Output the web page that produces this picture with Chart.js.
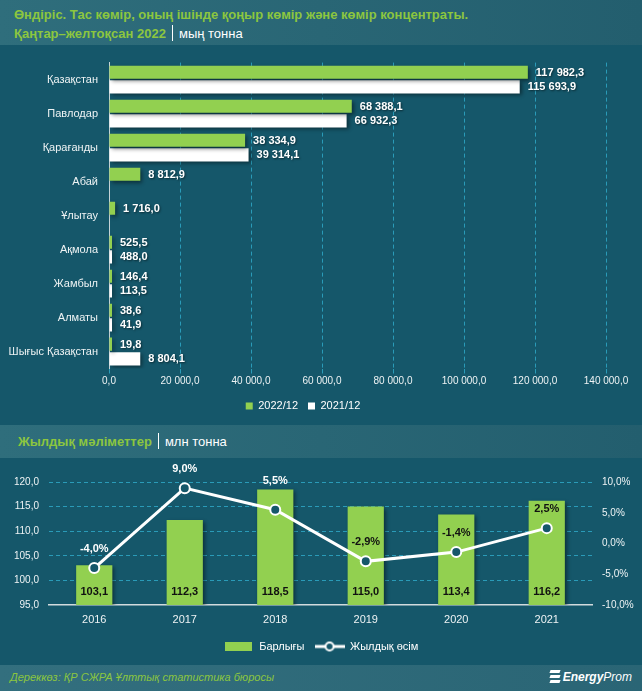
<!DOCTYPE html>
<html><head><meta charset="utf-8">
<script src="https://cdn.jsdelivr.net/npm/chart.js@4.4.0/dist/chart.umd.min.js"></script>
<style>
body{margin:0;width:642px;height:691px;background:#15576a;position:relative;overflow:hidden;font-family:"Liberation Sans",Arial,sans-serif;}
.band{position:absolute;left:0;width:642px;background:linear-gradient(to right,#2f6e7c,#235e6e);}
#h1{top:0;height:45px;}
#h2{top:425px;height:33px;}
#ft{top:665px;height:26px;background:linear-gradient(to right,#336f7e,#2a6575);}
.t{position:absolute;white-space:nowrap;font-size:13px;line-height:18px;}
.g{color:#8cc63f;font-weight:bold;}
.w{color:#fff;}
.sep{display:inline-block;width:1px;height:16px;background:#fff;vertical-align:-3px;margin:0 6px 0 6px;}
#c1w{position:absolute;left:0;top:45px;width:642px;height:380px;}
#c2w{position:absolute;left:0;top:458px;width:642px;height:207px;}
#src{position:absolute;left:10px;top:671px;font-size:11px;font-style:italic;color:#8cc63f;white-space:nowrap;}
#logo{position:absolute;right:10px;top:670px;color:#fff;font-size:12px;font-style:italic;white-space:nowrap;}
#logo .ic{display:inline-block;width:10px;height:13px;vertical-align:-2px;margin-right:3px;position:relative;}
#logo .ic i{position:absolute;left:0;width:10px;height:3px;background:#fff;transform:skewX(-20deg);}
</style></head>
<body>
<div class="band" id="h1"></div>
<div class="t g" style="left:14px;top:6px;">Өндіріс. Тас көмір, оның ішінде қоңыр көмір және көмір концентраты.</div>
<div class="t" style="left:14px;top:25px;"><span class="g">Қаңтар–желтоқсан 2022</span><span class="sep"></span><span class="w">мың тонна</span></div>
<div id="c1w"><canvas id="c1" width="642" height="380"></canvas></div>
<div class="band" id="h2"></div>
<div class="t" style="left:18px;top:433px;"><span class="g">Жылдық мәліметтер</span><span class="sep"></span><span class="w">млн тонна</span></div>
<div id="c2w"><canvas id="c2" width="642" height="207"></canvas></div>
<div class="band" id="ft"></div>
<div id="src">Дереккөз: ҚР СЖРА Ұлттық статистика бюросы</div>
<div id="logo"><span class="ic"><i style="top:0"></i><i style="top:5px"></i><i style="top:10px"></i></span><b>Energy</b>Prom</div>
<script>
const categories = ["Қазақстан","Павлодар","Қарағанды","Абай","Ұлытау","Ақмола","Жамбыл","Алматы","Шығыс Қазақстан"];
const values2022 = [117982.3, 68388.1, 38334.9, 8812.9, 1716.0, 525.5, 146.4, 38.6, 19.8];
const values2021 = [115693.9, 66932.3, 39314.1, null, null, 488.0, 113.5, 41.9, 8804.1];
const seriesNames1 = ["2022/12","2021/12"];
const years = ["2016","2017","2018","2019","2020","2021"];
const totals = [103.1, 112.3, 118.5, 115.0, 113.4, 116.2];
const growth = [-4.0, 9.0, 5.5, -2.9, -1.4, 2.5];
const seriesNames2 = ["Барлығы","Жылдық өсім"];

const GREEN = '#92d050', BG = '#15576a', GRID = '#2a9bb8', TXT = '#eef3f4';
const FONT = '"Liberation Sans",Arial,sans-serif';

function fmt(v, d){
  const s = Math.abs(v).toFixed(d).split('.');
  const i = s[0].replace(/\B(?=(\d{3})+(?!\d))/g,' ');
  return (v<0?'-':'') + i + (d ? ','+s[1] : '');
}

const shadowPlugin = {
  id:'shadow',
  beforeDatasetDraw(chart, args){
    if (args.meta.type !== 'bar') return;
    const c = chart.ctx; c.save();
    c.shadowColor='rgba(0,0,0,0.45)'; c.shadowBlur=4; c.shadowOffsetX=2; c.shadowOffsetY=2;
  },
  afterDatasetDraw(chart, args){ if (args.meta.type === 'bar') chart.ctx.restore(); }
};

const labels1 = {
  id:'labels1',
  afterDatasetsDraw(chart){
    const c = chart.ctx; c.save();
    c.font = 'bold 11px ' + FONT; c.fillStyle = '#fff'; c.textBaseline='middle'; c.textAlign='left';
    c.shadowColor='rgba(0,0,0,0.5)'; c.shadowBlur=2; c.shadowOffsetX=1; c.shadowOffsetY=1;
    chart.data.datasets.forEach((ds,i)=>{
      chart.getDatasetMeta(i).data.forEach((el,j)=>{
        const v = ds.data[j]; if (v==null) return;
        c.fillText(fmt(v,1), el.x + 8, el.y + 0.5);
      });
    });
    c.restore();
  }
};

new Chart(document.getElementById('c1'), {
  type:'bar',
  data:{ labels:categories, datasets:[
    {label:seriesNames1[0], data:values2022, backgroundColor:GREEN, categoryPercentage:0.86, barPercentage:0.9, minBarLength:3},
    {label:seriesNames1[1], data:values2021, backgroundColor:'#ffffff', categoryPercentage:0.86, barPercentage:0.9, minBarLength:3}
  ]},
  options:{
    indexAxis:'y', responsive:false, animation:false, devicePixelRatio:1,
    layout:{padding:{left:0, right:36, top:9.5, bottom:3.5}},
    plugins:{
      tooltip:{enabled:false},
      legend:{position:'bottom', labels:{color:'#fff', font:{family:FONT, size:11}, boxWidth:7, boxHeight:7, padding:10}}
    },
    scales:{
      x:{min:0, max:140000,
        ticks:{stepSize:20000, color:TXT, font:{family:FONT, size:10}, padding:2, callback:v=>fmt(v,1), maxRotation:0},
        grid:{color:ctx=>(ctx.tick && ctx.tick.value===0)?'rgba(0,0,0,0)':GRID, drawTicks:true, tickLength:5, tickColor:GRID},
        border:{display:false, dash:[4,3]},
        afterFit(s){ s.height = 22; }
      },
      y:{
        ticks:{color:TXT, font:{family:FONT, size:11}, padding:11},
        grid:{display:false, drawTicks:false},
        border:{display:true, color:'#c5d3d7', width:1},
        afterFit(s){ s.width = 109; }
      }
    }
  },
  plugins:[shadowPlugin, labels1]
});

function legendImg(kind){
  const cv = document.createElement('canvas');
  if (kind==='bar'){ cv.width=27; cv.height=9; const c=cv.getContext('2d'); c.fillStyle=GREEN; c.fillRect(0,0,27,9); }
  else { cv.width=30; cv.height=12; const c=cv.getContext('2d');
    c.strokeStyle='#fff'; c.lineWidth=3; c.beginPath(); c.moveTo(0,6); c.lineTo(30,6); c.stroke();
    c.beginPath(); c.arc(15,6,4,0,Math.PI*2); c.fillStyle=BG; c.fill(); c.lineWidth=2; c.stroke(); }
  return cv;
}

const labels2 = {
  id:'labels2',
  afterDatasetsDraw(chart){
    const c = chart.ctx; c.save();
    c.font = 'bold 11px ' + FONT; c.textAlign='center'; c.textBaseline='middle';
    const barMeta = chart.getDatasetMeta(0), lineMeta = chart.getDatasetMeta(1);
    barMeta.data.forEach((el,j)=>{
      c.fillStyle='#111'; c.fillText(fmt(totals[j],1), el.x, chart.chartArea.bottom - 13);
    });
    lineMeta.data.forEach((el,j)=>{
      let ly = el.y - 19;
      const barTop = barMeta.data[j].y;
      if (Math.abs(ly - barTop) < 6) ly = barTop - 8;
      c.fillStyle = ly > barTop ? '#111' : '#fff';
      c.fillText(fmt(growth[j],1)+'%', el.x, ly);
    });
    c.restore();
  }
};

new Chart(document.getElementById('c2'), {
  type:'bar',
  data:{ labels:years, datasets:[
    {type:'bar', label:seriesNames2[0], data:totals, backgroundColor:GREEN, yAxisID:'y', order:1, categoryPercentage:0.8, barPercentage:0.5},
    {type:'line', label:seriesNames2[1], data:growth, yAxisID:'y1', order:0, borderColor:'#fff', borderWidth:3, tension:0,
     pointRadius:5, pointBackgroundColor:BG, pointBorderColor:'#fff', pointBorderWidth:2}
  ]},
  options:{
    responsive:false, animation:false, devicePixelRatio:1,
    layout:{padding:{left:0, right:0, top:24, bottom:3}},
    plugins:{
      tooltip:{enabled:false},
      legend:{position:'bottom', labels:{color:'#fff', font:{family:FONT, size:11}, usePointStyle:true, pointStyleWidth:30, padding:10,
        generateLabels:()=>[
          {text:seriesNames2[0], pointStyle:legendImg('bar'), fillStyle:GREEN, strokeStyle:GREEN, lineWidth:0, hidden:false, datasetIndex:0, fontColor:'#fff'},
          {text:seriesNames2[1], pointStyle:legendImg('line'), fillStyle:BG, strokeStyle:'#fff', lineWidth:0, hidden:false, datasetIndex:1, fontColor:'#fff'}
        ]}}
    },
    scales:{
      x:{ticks:{color:TXT, font:{family:FONT, size:11}, padding:8},
        grid:{display:false, drawTicks:false},
        border:{display:true, color:'#d2dbdd', width:1.5},
        afterFit(s){ s.height = 26; }
      },
      y:{position:'left', min:95, max:120,
        ticks:{stepSize:5, color:TXT, font:{family:FONT, size:10}, padding:10, callback:v=>fmt(v,1)},
        grid:{color:ctx=>(ctx.tick && ctx.tick.value===95)?'rgba(0,0,0,0)':GRID, drawTicks:false},
        border:{display:false, dash:[4,3]},
        afterFit(s){ s.width = 49; }
      },
      y1:{position:'right', min:-10, max:10,
        ticks:{stepSize:5, color:TXT, font:{family:FONT, size:10}, padding:10, callback:v=>fmt(v,1)+'%'},
        grid:{display:false, drawTicks:false},
        border:{display:false},
        afterFit(s){ s.width = 50; }
      }
    }
  },
  plugins:[shadowPlugin, labels2]
});
</script>
</body></html>
